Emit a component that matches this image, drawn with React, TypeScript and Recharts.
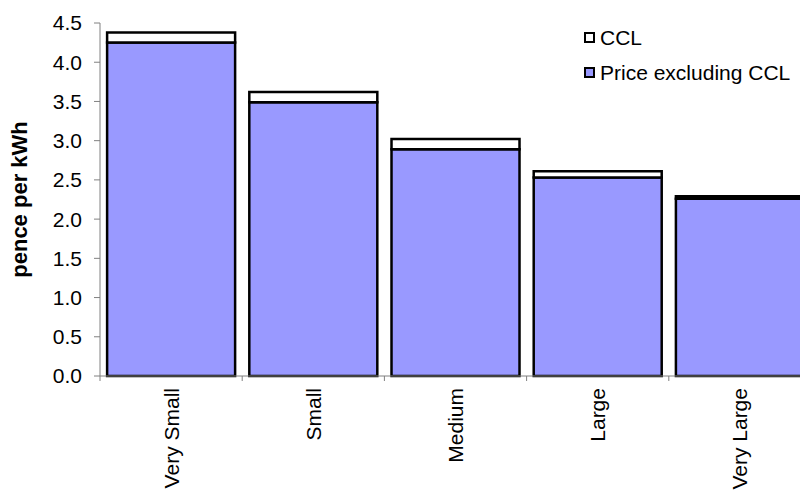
import React from "react";
import { BarChart, Bar, XAxis, YAxis, Legend } from "recharts";

// Gas price by consumer size band, pence per kWh
const bands = ["Very Small", "Small", "Medium", "Large", "Very Large"];
const priceExCcl = [4.25, 3.49, 2.89, 2.53, 2.26];
const cclLevy = [0.13, 0.13, 0.13, 0.08, 0.03];
const yTicks = [0, 0.5, 1, 1.5, 2, 2.5, 3, 3.5, 4, 4.5];
const legendOrder = ["CCL", "Price excluding CCL"];

const data = bands.map((band, i) => ({
  band,
  price: priceExCcl[i],
  ccl: cclLevy[i],
}));

const FONT = "'Liberation Sans', Arial, sans-serif";
const AXIS_GREY = "#808080";

// Rotated category label plus a short tick at the left edge of each band
const BandTick = (props: any) => {
  const { x, y, payload } = props;
  const half = payload.offset || 0;
  return (
    <g>
      <line x1={x - half} x2={x - half} y1={y} y2={y + 5} stroke={AXIS_GREY} strokeWidth={1} />
      <text
        x={x}
        y={y + 12}
        dy="0.36em"
        transform={`rotate(-90, ${x}, ${y + 12})`}
        textAnchor="end"
        fontSize={21}
        fontFamily={FONT}
        fill="#000"
      >
        {payload.value}
      </text>
    </g>
  );
};

const LegendBox = (props: any) => {
  const items = [...(props.payload || [])].sort(
    (a: any, b: any) => legendOrder.indexOf(a.value) - legendOrder.indexOf(b.value)
  );
  return (
    <div style={{ fontFamily: FONT, fontSize: 21, color: "#000" }}>
      {items.map((item: any) => (
        <div key={item.value} style={{ display: "flex", alignItems: "center", height: 35 }}>
          <span
            style={{
              display: "inline-block",
              width: 7,
              height: 7,
              border: "2px solid #000",
              background: item.color,
              marginRight: 5,
            }}
          />
          <span>{item.value}</span>
        </div>
      ))}
    </div>
  );
};

export default function App() {
  return (
    <div style={{ width: 800, height: 483, overflow: "hidden" }}>
      <BarChart
        width={806}
        height={483}
        data={data}
        margin={{ top: 15, right: 3, bottom: 0, left: 0 }}
        barCategoryGap="5%"
      >
        <XAxis
          dataKey="band"
          height={115}
          stroke={AXIS_GREY}
          tickLine={false}
          tickSize={0}
          tickMargin={0}
          interval={0}
          tick={<BandTick />}
        />
        <YAxis
          width={92}
          domain={[0, 4.5]}
          ticks={yTicks}
          tickFormatter={(v: number) => v.toFixed(1)}
          stroke={AXIS_GREY}
          tickSize={6}
          tickMargin={12}
          tick={{ fill: "#000", fontSize: 21, fontFamily: FONT }}
          label={{
            value: "pence per kWh",
            angle: -90,
            position: "center",
            dx: -35,
            style: { fontFamily: FONT, fontSize: 22, fontWeight: "bold", fill: "#000" },
          }}
        />
        <Legend
          layout="horizontal"
          align="center"
          verticalAlign="middle"
          content={<LegendBox />}
          wrapperStyle={{ top: 12, left: 576, width: "auto" }}
        />
        <Bar
          dataKey="price"
          name="Price excluding CCL"
          stackId="a"
          fill="#9999FF"
          stroke="#000"
          strokeWidth={2.5}
          isAnimationActive={false}
        />
        <Bar
          dataKey="ccl"
          name="CCL"
          stackId="a"
          fill="#FFFFFF"
          stroke="#000"
          strokeWidth={2.5}
          isAnimationActive={false}
        />
      </BarChart>
    </div>
  );
}
